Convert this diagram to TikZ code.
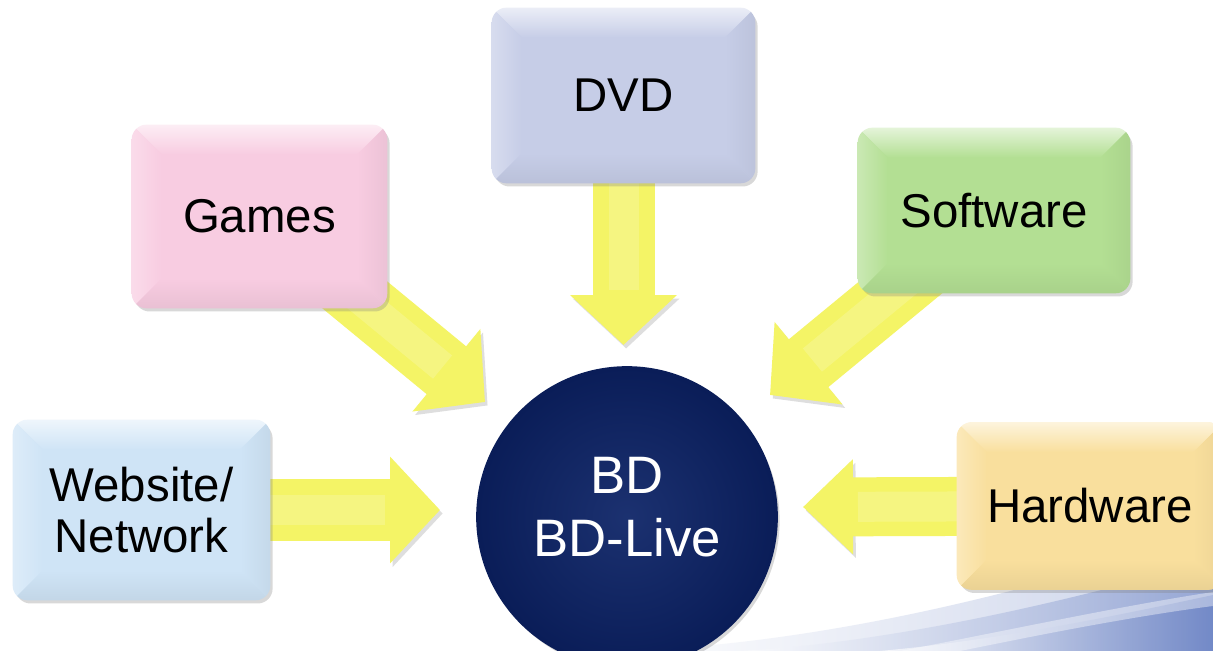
\documentclass[tikz,border=0pt]{standalone}
\usepackage{fontspec}
\setmainfont{Liberation Sans}
\usetikzlibrary{arrows.meta,shadows,calc}
\definecolor{dvdc}{HTML}{C6CDE7}
\definecolor{gamesc}{HTML}{F8CCE1}
\definecolor{softc}{HTML}{B3DF93}
\definecolor{webc}{HTML}{CFE4F6}
\definecolor{hardc}{HTML}{F9DF9D}
\definecolor{arrowy}{HTML}{F4F466}
\definecolor{navy}{HTML}{0D2467}
\definecolor{navyrim}{HTML}{0A1D58}
\definecolor{swooshblue}{HTML}{6A82C4}
\pgfdeclarelayer{bg}
\pgfdeclarelayer{arr}
\pgfsetlayers{bg,arr,main}
\newcommand\bevelbox[2]{%
 \begin{scope}
 \clip[rounded corners=8.5pt] (#1.south west) rectangle (#1.north east);
 \shade[top color=white!65!#2, bottom color=#2] (#1.north west) -- (#1.north east) -- ($(#1.north east)+(-30,30)$) -- ($(#1.north west)+(30,30)$) -- cycle;
 \shade[left color=white!30!#2, right color=#2] (#1.north west) -- ($(#1.north west)+(30,30)$) -- ($(#1.south west)+(30,-30)$) -- (#1.south west) -- cycle;
 \shade[left color=#2, right color=black!5!#2] (#1.north east) -- ($(#1.north east)+(-30,30)$) -- ($(#1.south east)+(-30,-30)$) -- (#1.south east) -- cycle;
 \shade[top color=#2, bottom color=black!6!#2] (#1.south west) -- ($(#1.south west)+(30,-30)$) -- ($(#1.south east)+(-30,-30)$) -- (#1.south east) -- cycle;
 \end{scope}}
\tikzset{
 box/.style={rectangle, rounded corners=8.5pt, inner sep=0pt, align=center,
   font=\fontsize{27}{29.5}\selectfont,
   drop shadow={shadow xshift=1.5pt, shadow yshift=-2pt, opacity=0.3}},
 flow/.style={line width=1.24cm, draw=arrowy, -{Triangle[length=1cm,width=2.08cm]},
   preaction={draw=black, opacity=0.13, transform canvas={shift={(1.5pt,-2pt)}}},
   postaction={draw=white, opacity=0.18, line width=0.6cm, -, shorten >=1.1cm}},
}
\begin{document}
\begin{tikzpicture}[x=0.02cm, y=-0.02cm]
\path[use as bounding box] (0,0) rectangle (1213,651);
% background swoosh
\begin{pgfonlayer}{bg}
\fill[white] (0,0) rectangle (1213,651);
\shade[left color=white, right color=swooshblue, opacity=0.35] (620,651) .. controls (820,645) and (1040,590) .. (1213,530) -- (1213,651) -- cycle;
\shade[left color=white, right color=swooshblue, opacity=0.55] (740,651) .. controls (900,642) and (1080,598) .. (1213,560) -- (1213,651) -- cycle;
\shade[left color=white, right color=swooshblue, opacity=0.8] (880,651) .. controls (1000,640) and (1120,615) .. (1213,595) -- (1213,651) -- cycle;
\fill[white, opacity=0.4] (900,651) .. controls (1000,632) and (1120,606) .. (1213,592) -- (1213,606) .. controls (1120,618) and (1010,641) .. (960,651) -- cycle;
\end{pgfonlayer}
% boxes
\node[box, fill=dvdc, minimum width=5.26cm, minimum height=3.5cm] (dvd) at (623.5,95.5) {DVD};
\bevelbox{dvd}{dvdc}
\node[box, fill=gamesc, minimum width=5.1cm, minimum height=3.66cm] (games) at (259.5,216.5) {Games};
\bevelbox{games}{gamesc}
\node[box, fill=softc, minimum width=5.44cm, minimum height=3.3cm] (soft) at (994,210.5) {Software};
\bevelbox{soft}{softc}
\node[box, fill=webc, minimum width=5.14cm, minimum height=3.6cm] (web) at (141.5,510) {Website/\\Network};
\bevelbox{web}{webc}
\node[box, fill=hardc, minimum width=5.32cm, minimum height=3.34cm] (hard) at (1090,506) {Hardware};
\bevelbox{hard}{hardc}
% centre
\node[circle, minimum size=6cm, inner sep=0pt, inner color=navy!94!white, outer color=navyrim, draw=navyrim, line width=1pt,
  drop shadow={shadow xshift=1.5pt, shadow yshift=-2pt, opacity=0.3}] (bd) at (627,517) {};
\node[white, align=center, font=\fontsize{30}{36}\selectfont] (bdtext) at (627,507) {BD\\BD-Live};
% arrow tips
\coordinate (dtip) at (623.5,345);
\coordinate (gtip) at (485,402);
\coordinate (stip) at (770,395);
\coordinate (wtip) at (440,510);
\coordinate (htip) at (803,507);
\begin{pgfonlayer}{arr}
\draw[flow] (dvd.center) -- (dtip);
\draw[flow] (games.center) -- (gtip);
\draw[flow] (soft.center) -- (stip);
\draw[flow] (web.center) -- (wtip);
\draw[flow, line width=1.18cm, -{Triangle[length=1cm,width=1.84cm]}] (hard.center) -- (htip);
\end{pgfonlayer}
\end{tikzpicture}
\end{document}
